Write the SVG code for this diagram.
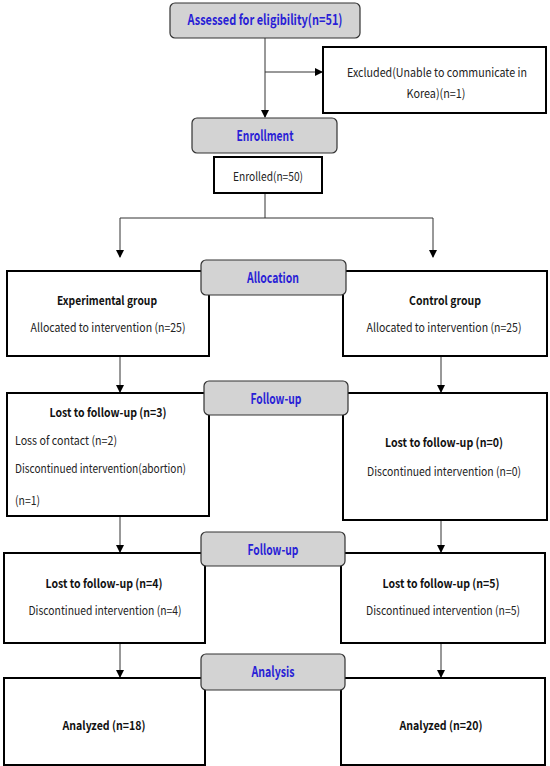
<svg xmlns="http://www.w3.org/2000/svg" width="550" height="766" viewBox="0 0 550 766">
<style>
.box{fill:#fff;stroke:#000;stroke-width:2}
.stage{fill:#d3d3d3;stroke:#333;stroke-width:1.2}
.t{font-family:"Noto Sans CJK KR","Liberation Sans",sans-serif;font-size:12px;fill:#222}
.b{font-weight:bold;fill:#111}
.blue{font-weight:bold;fill:#2a1fd6;font-size:14.5px}
.ln{stroke:#333;stroke-width:1;fill:none}
</style>
<defs>
<marker id="ah" markerWidth="8" markerHeight="8" refX="7" refY="4" orient="auto" markerUnits="userSpaceOnUse">
<path d="M0,0 L8,4 L0,8 z" fill="#000"/>
</marker>
</defs>
<g id="connectors">
<line class="ln" x1="265" y1="38" x2="265" y2="117" marker-end="url(#ah)"/>
<line class="ln" x1="265" y1="72" x2="322" y2="72" marker-end="url(#ah)"/>
<line class="ln" x1="265" y1="193" x2="265" y2="218"/>
<line class="ln" x1="120" y1="218" x2="433" y2="218"/>
<line class="ln" x1="120" y1="218" x2="120" y2="257" marker-end="url(#ah)"/>
<line class="ln" x1="433" y1="218" x2="433" y2="257" marker-end="url(#ah)"/>
<line class="ln" x1="120" y1="356" x2="120" y2="392" marker-end="url(#ah)"/>
<line class="ln" x1="441" y1="356" x2="441" y2="392" marker-end="url(#ah)"/>
<line class="ln" x1="120" y1="516" x2="120" y2="552" marker-end="url(#ah)"/>
<line class="ln" x1="441" y1="520" x2="441" y2="552" marker-end="url(#ah)"/>
<line class="ln" x1="120" y1="643" x2="120" y2="677" marker-end="url(#ah)"/>
<line class="ln" x1="441" y1="643" x2="441" y2="677" marker-end="url(#ah)"/>
</g>
<g id="assessed">
<rect class="stage" x="170" y="3" width="190" height="35" rx="5"/>
<text class="t blue" x="265" y="25" text-anchor="middle" textLength="155" lengthAdjust="spacingAndGlyphs">Assessed for eligibility(n=51)</text>
</g>
<g id="excluded">
<rect class="box" x="323" y="47" width="223" height="66"/>
<text class="t" x="437" y="77" text-anchor="middle" textLength="180" lengthAdjust="spacingAndGlyphs">Excluded(Unable to communicate in</text>
<text class="t" x="436" y="98" text-anchor="middle" textLength="59" lengthAdjust="spacingAndGlyphs">Korea)(n=1)</text>
</g>
<g id="enrollment">
<rect class="stage" x="192" y="118" width="145" height="35" rx="5"/>
<text class="t blue" x="265" y="141" text-anchor="middle" textLength="57" lengthAdjust="spacingAndGlyphs">Enrollment</text>
</g>
<g id="enrolled">
<rect class="box" x="214" y="157" width="108" height="36"/>
<text class="t" x="268" y="181" text-anchor="middle" textLength="70" lengthAdjust="spacingAndGlyphs">Enrolled(n=50)</text>
</g>
<g id="experimental">
<rect class="box" x="7" y="271" width="202" height="85"/>
<text class="t b" x="107" y="305" text-anchor="middle" textLength="100" lengthAdjust="spacingAndGlyphs">Experimental group</text>
<text class="t" x="108" y="332" text-anchor="middle" textLength="155" lengthAdjust="spacingAndGlyphs">Allocated to intervention (n=25)</text>
</g>
<g id="control">
<rect class="box" x="343" y="271" width="204" height="85"/>
<text class="t b" x="445" y="305" text-anchor="middle" textLength="72" lengthAdjust="spacingAndGlyphs">Control group</text>
<text class="t" x="444" y="332" text-anchor="middle" textLength="155" lengthAdjust="spacingAndGlyphs">Allocated to intervention (n=25)</text>
</g>
<g id="allocation">
<rect class="stage" x="201" y="260" width="145" height="35" rx="5"/>
<text class="t blue" x="273" y="283" text-anchor="middle" textLength="52" lengthAdjust="spacingAndGlyphs">Allocation</text>
</g>
<g id="lost-exp-1">
<rect class="box" x="7" y="393" width="202" height="123"/>
<text class="t b" x="108" y="417" text-anchor="middle" textLength="117" lengthAdjust="spacingAndGlyphs">Lost to follow-up (n=3)</text>
<text class="t" x="15" y="445" textLength="102" lengthAdjust="spacingAndGlyphs">Loss of contact (n=2)</text>
<text class="t" x="15" y="473" textLength="171" lengthAdjust="spacingAndGlyphs">Discontinued intervention(abortion)</text>
<text class="t" x="15" y="505" textLength="25" lengthAdjust="spacingAndGlyphs">(n=1)</text>
</g>
<g id="lost-ctl-1">
<rect class="box" x="343" y="393" width="204" height="127"/>
<text class="t b" x="444" y="447" text-anchor="middle" textLength="118" lengthAdjust="spacingAndGlyphs">Lost to follow-up (n=0)</text>
<text class="t" x="444" y="476" text-anchor="middle" textLength="154" lengthAdjust="spacingAndGlyphs">Discontinued intervention (n=0)</text>
</g>
<g id="followup-1">
<rect class="stage" x="204" y="381" width="144" height="34" rx="5"/>
<text class="t blue" x="276" y="404" text-anchor="middle" textLength="51" lengthAdjust="spacingAndGlyphs">Follow-up</text>
</g>
<g id="lost-exp-2">
<rect class="box" x="4" y="553" width="201" height="90"/>
<text class="t b" x="104" y="588" text-anchor="middle" textLength="117" lengthAdjust="spacingAndGlyphs">Lost to follow-up (n=4)</text>
<text class="t" x="105" y="615" text-anchor="middle" textLength="153" lengthAdjust="spacingAndGlyphs">Discontinued intervention (n=4)</text>
</g>
<g id="lost-ctl-2">
<rect class="box" x="341" y="553" width="204" height="90"/>
<text class="t b" x="441" y="588" text-anchor="middle" textLength="117" lengthAdjust="spacingAndGlyphs">Lost to follow-up (n=5)</text>
<text class="t" x="443" y="615" text-anchor="middle" textLength="154" lengthAdjust="spacingAndGlyphs">Discontinued intervention (n=5)</text>
</g>
<g id="followup-2">
<rect class="stage" x="201" y="532" width="144" height="34" rx="5"/>
<text class="t blue" x="273" y="555" text-anchor="middle" textLength="51" lengthAdjust="spacingAndGlyphs">Follow-up</text>
</g>
<g id="analyzed-exp">
<rect class="box" x="4" y="678" width="201" height="87"/>
<text class="t b" x="104" y="730" text-anchor="middle" textLength="83" lengthAdjust="spacingAndGlyphs">Analyzed (n=18)</text>
</g>
<g id="analyzed-ctl">
<rect class="box" x="341" y="678" width="204" height="87"/>
<text class="t b" x="441" y="730" text-anchor="middle" textLength="83" lengthAdjust="spacingAndGlyphs">Analyzed (n=20)</text>
</g>
<g id="analysis">
<rect class="stage" x="201" y="654" width="144" height="36" rx="5"/>
<text class="t blue" x="273" y="677" text-anchor="middle" textLength="43" lengthAdjust="spacingAndGlyphs">Analysis</text>
</g>
</svg>
